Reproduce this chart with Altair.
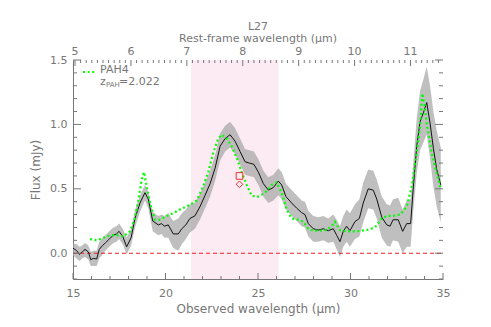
import altair as alt
import pandas as pd

Z_PAH = 2.022

# Observed spectrum (mJy) with 1-sigma envelope
obs_wave = [15.0, 15.2, 15.35, 15.5, 15.65, 15.83, 15.96, 16.1, 16.28, 16.42, 16.6, 16.75, 16.96,
            17.18, 17.35, 17.49, 17.69, 17.9, 18.14, 18.35, 18.62, 18.89, 19.07, 19.31, 19.61,
            19.79, 19.94, 20.15, 20.42, 20.69, 20.88, 21.1, 21.32, 21.59, 21.86, 22.14, 22.41,
            22.68, 22.95, 23.22, 23.49, 23.76, 24.03, 24.3, 24.53, 24.78, 25.02, 25.29, 25.56,
            25.83, 26.1, 26.28, 26.51, 26.82, 27.09, 27.36, 27.54, 27.72, 27.99, 28.26, 28.53,
            28.8, 29.07, 29.25, 29.43, 29.61, 29.79, 29.97, 30.24, 30.48, 30.69, 30.96, 31.23,
            31.42, 31.69, 31.96, 32.14, 32.3, 32.58, 32.82, 33.04, 33.25, 33.4, 33.58, 33.76,
            33.94, 34.12, 34.3, 34.48, 34.66, 34.88]
flux = [0.04, 0.02, -0.01, 0.01, 0.03, 0.01, -0.05, -0.04, -0.045, 0.03, 0.06, 0.08, 0.11,
        0.14, 0.15, 0.17, 0.13, 0.05, 0.12, 0.27, 0.39, 0.47, 0.42, 0.25, 0.22,
        0.23, 0.21, 0.22, 0.15, 0.15, 0.19, 0.22, 0.27, 0.29, 0.36, 0.45, 0.54,
        0.66, 0.83, 0.89, 0.92, 0.87, 0.79, 0.71, 0.70, 0.69, 0.63, 0.54, 0.49,
        0.51, 0.56, 0.53, 0.44, 0.39, 0.35, 0.315, 0.30, 0.23, 0.19, 0.18, 0.19,
        0.175, 0.19, 0.14, 0.09, 0.17, 0.21, 0.175, 0.245, 0.27, 0.39, 0.50, 0.49,
        0.42, 0.28, 0.22, 0.21, 0.26, 0.26, 0.17, 0.23, 0.23, 0.52, 0.83, 1.02,
        1.09, 1.17, 1.01, 0.815, 0.65, 0.53]
flux_lo = [-0.02, -0.04, -0.06, -0.04, -0.03, -0.05, -0.10, -0.10, -0.10, -0.04, -0.01, 0.02, 0.05,
           0.08, 0.09, 0.11, 0.07, -0.01, 0.06, 0.20, 0.32, 0.41, 0.35, 0.17, 0.14,
           0.15, 0.12, 0.12, 0.04, 0.02, 0.07, 0.11, 0.16, 0.19, 0.26, 0.35, 0.44,
           0.56, 0.72, 0.79, 0.82, 0.77, 0.69, 0.61, 0.60, 0.59, 0.53, 0.44, 0.39,
           0.41, 0.45, 0.42, 0.34, 0.29, 0.25, 0.21, 0.20, 0.13, 0.09, 0.09, 0.10,
           0.08, 0.09, 0.03, -0.03, 0.05, 0.09, 0.05, 0.11, 0.13, 0.24, 0.35, 0.34,
           0.27, 0.12, 0.06, 0.05, 0.10, 0.09, 0.00, 0.05, 0.05, 0.34, 0.62, 0.80,
           0.86, 0.92, 0.74, 0.52, 0.36, 0.24]
flux_hi = [0.08, 0.07, 0.05, 0.06, 0.08, 0.06, 0.01, 0.02, 0.02, 0.09, 0.12, 0.14, 0.17,
           0.20, 0.21, 0.23, 0.19, 0.12, 0.19, 0.33, 0.45, 0.53, 0.48, 0.32, 0.29,
           0.30, 0.29, 0.31, 0.25, 0.27, 0.31, 0.34, 0.38, 0.39, 0.46, 0.55, 0.64,
           0.76, 0.93, 0.99, 1.02, 0.97, 0.89, 0.81, 0.80, 0.79, 0.73, 0.64, 0.59,
           0.61, 0.66, 0.63, 0.54, 0.49, 0.45, 0.41, 0.40, 0.33, 0.29, 0.28, 0.29,
           0.27, 0.30, 0.26, 0.21, 0.29, 0.34, 0.31, 0.38, 0.42, 0.55, 0.65, 0.64,
           0.57, 0.44, 0.38, 0.37, 0.42, 0.43, 0.34, 0.41, 0.42, 0.71, 1.05, 1.26,
           1.35, 1.45, 1.30, 1.10, 0.95, 0.82]

# PAH model fit
model_wave = [15.92, 16.28, 16.64, 17.0, 17.36, 17.72, 18.08, 18.35, 18.53, 18.71, 18.84, 18.98,
              19.16, 19.43, 19.7, 20.06, 20.42, 20.78, 21.32, 21.69, 22.04, 22.31, 22.58, 22.85,
              23.04, 23.31, 23.58, 23.85, 24.12, 24.39, 24.66, 25.02, 25.38, 25.74, 26.0, 26.28,
              26.55, 26.82, 27.18, 27.45, 27.72, 27.99, 28.35, 28.71, 28.98, 29.16, 29.43, 29.79,
              30.33, 30.87, 31.32, 31.69, 31.96, 32.3, 32.68, 33.04, 33.31, 33.58, 33.76, 33.88,
              33.99, 34.15, 34.39, 34.66, 34.88]
model_flux = [0.11, 0.10, 0.12, 0.14, 0.14, 0.13, 0.17, 0.27, 0.41, 0.57, 0.63, 0.52,
              0.39, 0.26, 0.26, 0.29, 0.31, 0.34, 0.375, 0.41, 0.52, 0.63, 0.78, 0.89,
              0.92, 0.89, 0.83, 0.74, 0.63, 0.53, 0.445, 0.44, 0.47, 0.53, 0.55, 0.47,
              0.34, 0.27, 0.26, 0.245, 0.19, 0.175, 0.175, 0.18, 0.21, 0.245, 0.18, 0.17,
              0.17, 0.18, 0.20, 0.27, 0.29, 0.29, 0.30, 0.36, 0.52, 0.78, 0.98, 1.24,
              1.16, 0.98, 0.78, 0.62, 0.50]

band_start = [21.38]
band_end = [26.12]

phot_wave = [24.0, 24.0]
phot_flux = [0.60, 0.535]
phot_kind = ["square", "diamond"]

x_labels = [15, 20, 25, 30, 35]
x_minor = [16, 17, 18, 19, 21, 22, 23, 24, 26, 27, 28, 29, 31, 32, 33, 34]
y_labels = [0.0, 0.5, 1.0, 1.5]
y_minor = [-0.2, -0.1, 0.1, 0.2, 0.3, 0.4, 0.6, 0.7, 0.8, 0.9, 1.1, 1.2, 1.3, 1.4]
rest_labels = [5, 6, 7, 8, 9, 10, 11]
rest_minor = [round(r / 10, 1) for r in range(50, 116) if r % 10 != 0]

W, H = 370, 219
FONT = "DejaVu Sans"
TXT = "#777777"
TICK = "#777777"

xs = alt.Scale(domain=[15, 35], nice=False, zero=False)
ys = alt.Scale(domain=[-0.2, 1.5], nice=False, zero=False)

AX = alt.Axis(values=x_labels, title="Observed wavelength (μm)", ticks=False, tickSize=0,
              labelPadding=8, titlePadding=5, domainColor=TICK, labelFlush=False, grid=False)
AY = alt.Axis(values=y_labels, format=".1f", title="Flux (mJy)", ticks=False, tickSize=0,
              labelPadding=6, titlePadding=7, domainColor=TICK, labelFlush=False, grid=False)


def X(field):
    return alt.X(field, scale=xs, axis=AX)


def Y(field):
    return alt.Y(field, scale=ys, axis=AY)


spec_df = pd.DataFrame({"w": obs_wave, "f": flux, "lo": flux_lo, "hi": flux_hi})
model_df = pd.DataFrame({"w": model_wave, "f": model_flux})

pink = alt.Chart(pd.DataFrame({"w": band_start, "b": band_end})).mark_rect(color="#fcebf3").encode(
    x=X("w:Q"), x2="b:Q", y=alt.value(0), y2=alt.value(H))

area = alt.Chart(spec_df).mark_area(color="#a6a6a6", opacity=0.72).encode(
    x=X("w:Q"), y=Y("lo:Q"), y2="hi:Q")

zero = alt.Chart(pd.DataFrame({"f": [0.0]})).mark_rule(
    color="#f01e1e", strokeDash=[4, 3], strokeWidth=1).encode(
    y=Y("f:Q"), x=alt.value(0), x2=alt.value(W))

line = alt.Chart(spec_df).mark_line(color="#111111", strokeWidth=1).encode(x=X("w:Q"), y=Y("f:Q"))

model = alt.Chart(model_df).mark_line(color="#00ff00", strokeDash=[2, 2.6], strokeWidth=2.2).encode(
    x=X("w:Q"), y=Y("f:Q"))

phot = alt.Chart(pd.DataFrame({"w": phot_wave, "f": phot_flux, "k": phot_kind})).mark_point(
    filled=False, color="#e8352f", size=45, strokeWidth=1, opacity=1).encode(
    x=X("w:Q"), y=Y("f:Q"),
    shape=alt.Shape("k:N", scale=alt.Scale(domain=["square", "diamond"], range=["square", "diamond"]),
                    legend=None))


def yticks(vals, x0, x1):
    return alt.Chart(pd.DataFrame({"f": vals})).mark_rule(color=TICK, strokeWidth=1).encode(
        y=Y("f:Q"), x=alt.value(x0), x2=alt.value(x1))


def xticks(vals, y0, y1):
    return alt.Chart(pd.DataFrame({"w": vals})).mark_rule(color=TICK, strokeWidth=1).encode(
        x=X("w:Q"), y=alt.value(y0), y2=alt.value(y1))


rest_major_obs = [r * (1 + Z_PAH) for r in rest_labels]
rest_minor_obs = [r * (1 + Z_PAH) for r in rest_minor]

ticks = [
    yticks(y_labels, 0, 8), yticks(y_minor, 0, 4),
    yticks(y_labels, W, W - 8), yticks(y_minor, W, W - 4),
    xticks(x_labels, H, H - 6), xticks(x_minor, H, H - 3),
    xticks(rest_major_obs, 0, 6), xticks(rest_minor_obs, 0, 3),
]

top_labels = alt.Chart(pd.DataFrame({"w": rest_major_obs, "t": [str(r) for r in rest_labels]})).mark_text(
    font=FONT, fontSize=11, color=TXT, baseline="middle").encode(
    x=X("w:Q"), y=alt.value(-8), text="t:N")


def label(txt, x, y, size=12, align="center"):
    return alt.Chart(pd.DataFrame({"t": [txt]})).mark_text(
        font=FONT, fontSize=size, color=TXT, baseline="middle", align=align).encode(
        text="t:N", x=alt.value(x), y=alt.value(y))


top_title = label("Rest-frame wavelength (μm)", W / 2, -21, 11)
obj_title = label("L27", W / 2, -33, 11)

legend_line = alt.Chart(pd.DataFrame({"t": ["PAH4"]})).mark_rule(
    color="#00ff00", strokeDash=[2, 2.6], strokeWidth=2.2).encode(
    x=alt.value(10), x2=alt.value(22), y=alt.value(12), detail="t:N")
legend_txt = [
    label("PAH4", 27, 9.5, 11, "left"),
    label("z", 27, 21.5, 11, "left"),
    label("PAH", 33, 24.5, 7, "left"),
    label("=2.022", 46, 21.5, 11, "left"),
]

chart = alt.layer(
    pink, area, zero, line, model, phot, *ticks, top_labels, top_title, obj_title,
    legend_line, *legend_txt
).properties(
    width=W, height=H,
    padding={"left": 65, "top": 52, "right": 40, "bottom": 40},
    autosize=alt.AutoSizeParams(type="none"),
).configure_view(strokeWidth=0).configure_axis(
    labelFont=FONT, titleFont=FONT, labelColor=TXT, titleColor=TXT,
    labelFontSize=11, titleFontSize=12, titleFontWeight="normal", grid=False,
)

chart.save("out.html", embed_options={"renderer": "svg", "actions": False})
